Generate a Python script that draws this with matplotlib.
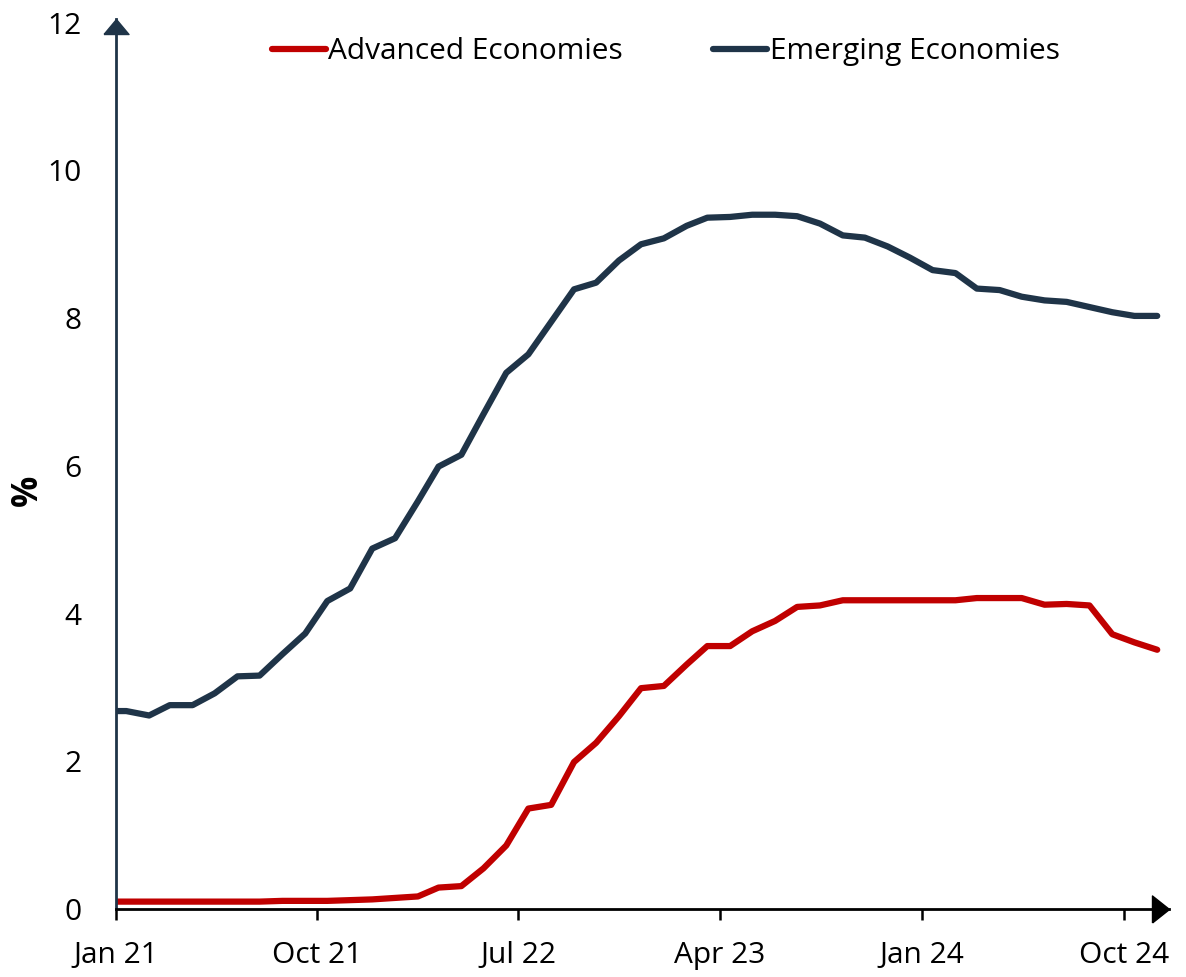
import numpy as np
import pandas as pd
import matplotlib
matplotlib.use("Agg")
import matplotlib.pyplot as plt
from matplotlib.transforms import offset_copy

# monthly policy rates, Dec 20 .. Nov 24 (mid-month points)
months = pd.date_range("2020-12-01", periods=48, freq="MS") + pd.Timedelta(days=14)

advanced = [0.10, 0.10, 0.10, 0.10, 0.10, 0.10, 0.10, 0.10, 0.11, 0.11, 0.11, 0.12,
            0.13, 0.15, 0.17, 0.29, 0.31, 0.55, 0.86, 1.36, 1.41, 1.99, 2.25, 2.61,
            2.99, 3.02, 3.31, 3.56, 3.56, 3.76, 3.90, 4.09, 4.11, 4.18, 4.18, 4.18,
            4.18, 4.18, 4.18, 4.21, 4.21, 4.21, 4.12, 4.13, 4.11, 3.72, 3.61, 3.51]

emerging = [2.68, 2.68, 2.62, 2.76, 2.76, 2.92, 3.15, 3.16, 3.45, 3.73, 4.17, 4.34,
            4.88, 5.02, 5.52, 5.99, 6.15, 6.70, 7.26, 7.51, 7.95, 8.39, 8.48, 8.78,
            9.00, 9.08, 9.25, 9.36, 9.37, 9.40, 9.40, 9.38, 9.28, 9.12, 9.09, 8.97,
            8.82, 8.65, 8.61, 8.40, 8.38, 8.29, 8.24, 8.22, 8.15, 8.08, 8.03, 8.03]

tick_dates = pd.date_range("2021-01-01", "2024-10-01", freq="9MS")
tick_labels = [d.strftime("%b %y") for d in tick_dates]

red = "#c00000"
navy = "#1f3448"

plt.rcParams["font.family"] = ["Open Sans", "DejaVu Sans"]

fig = plt.figure(figsize=(11.86, 9.77), dpi=100)
ax = fig.add_axes([116 / 1186, 68 / 977, (1169 - 116) / 1186, (958 - 68) / 977])

ax.plot(months, advanced, color=red, lw=4.5, label="Advanced Economies",
        solid_capstyle="round")
ax.plot(months, emerging, color=navy, lw=4.5, label="Emerging Economies",
        solid_capstyle="round")

ax.set_xlim(pd.Timestamp("2021-01-01"), pd.Timestamp("2024-12-01"))
ax.set_ylim(0, 12.05)
ax.set_yticks([0, 2, 4, 6, 8, 10, 12])
ax.set_xticks(tick_dates)
ax.set_xticklabels(tick_labels)

for s in ["top", "right"]:
    ax.spines[s].set_visible(False)
ax.spines["left"].set_color(navy)
ax.spines["left"].set_linewidth(2)
ax.spines["bottom"].set_color("black")
ax.spines["bottom"].set_linewidth(2)

ax.tick_params(axis="y", length=0, pad=25, labelsize=21.5)
ax.tick_params(axis="x", length=8, width=1.8, direction="out", pad=15, labelsize=21.5)
ax.set_ylabel("%", fontsize=25, fontweight="bold")
ax.yaxis.set_label_coords(-0.067, 0.47)

# arrow heads at the ends of the axes
up = [(-1, 0), (1, 0), (0, 1.2), (-1, 0)]
ax.plot([0], [1], marker=up, markersize=21.6, color=navy, clip_on=False,
        transform=offset_copy(ax.transAxes, fig, y=-15, units="dots"))
right = [(0, -1), (0, 1), (1.26, 0), (0, -1)]
ax.plot([1], [0], marker=right, markersize=24.5, color="black", clip_on=False,
        transform=offset_copy(ax.transAxes, fig, x=-17, units="dots"))

ax.legend(loc="center", bbox_to_anchor=(0.522, 0.963), ncol=2, frameon=False,
          fontsize=21.5, handlelength=1.8, handletextpad=0.1, columnspacing=3.0)

fig.savefig("out.png", dpi=100)
